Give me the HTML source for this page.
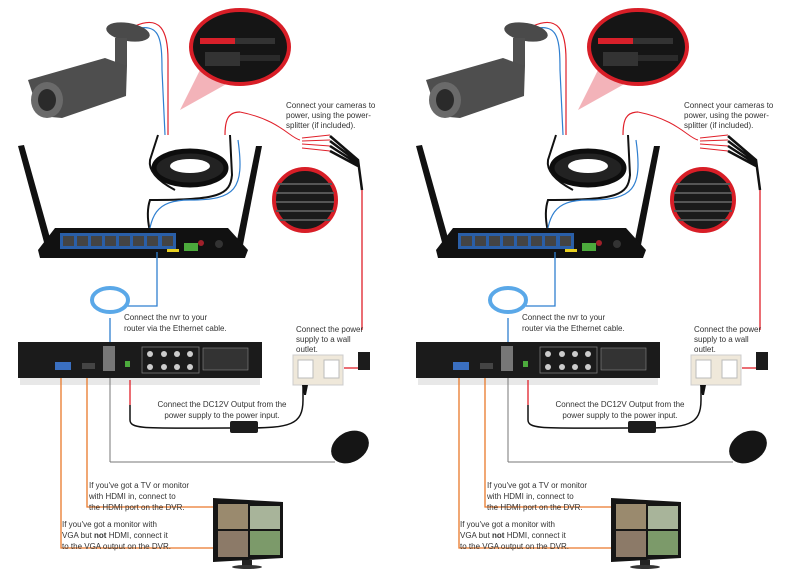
<!DOCTYPE html>
<html><head><meta charset="utf-8"><style>
html,body{margin:0;padding:0;background:#fff;width:809px;height:575px;overflow:hidden}
svg text{font-family:"Liberation Sans",sans-serif;font-size:8px;fill:#333}
</style></head><body>
<svg width="809" height="575" viewBox="0 0 809 575" xmlns="http://www.w3.org/2000/svg">
<defs>
<g id="art">
 <!-- camera cables -->
 <path d="M135,26 C160,15 168,30 168,60 L168,135" fill="none" stroke="#e0202a" stroke-width="1.2"/>
 <path d="M140,28 C160,25 162,40 162,70 L165,135" fill="none" stroke="#2f7fd0" stroke-width="1.2"/>
 <!-- pink triangle -->
 <polygon points="180,110 200,70 230,82" fill="#f0a0a8" opacity="0.8"/>
 <!-- camera -->
 <ellipse cx="128" cy="32" rx="22" ry="9" transform="rotate(10 128 32)" fill="#4a4a4a"/>
 <rect x="115" y="38" width="12" height="28" fill="#505050"/>
 <polygon points="28,80 105,58 127,66 126,96 62,118 40,116" fill="#4e4e4e"/>
 <ellipse cx="47" cy="100" rx="16" ry="18" fill="#6a6a6a"/>
 <ellipse cx="47" cy="100" rx="9" ry="11" fill="#2a2a2a"/>
 <!-- magnifier -->
 <ellipse cx="240" cy="47" rx="49" ry="37" fill="#151515" stroke="#d81e27" stroke-width="4"/>
 <rect x="200" y="38" width="35" height="6" fill="#d8202a"/>
 <rect x="235" y="38" width="40" height="6" fill="#333"/>
 <rect x="205" y="52" width="35" height="14" fill="#333"/>
 <rect x="240" y="55" width="40" height="6" fill="#2a2a2a"/>
 <!-- coiled cable -->
 <ellipse cx="190" cy="168" rx="36" ry="17" fill="#222" stroke="#0d0d0d" stroke-width="5"/>
 <ellipse cx="190" cy="166" rx="20" ry="7" fill="#fff"/>
 <path d="M158,135 L150,160 C148,172 160,182 175,190 M230,135 L232,175 C230,195 220,200 150,200 C145,215 150,230 150,232" fill="none" stroke="#111" stroke-width="2"/>
 <path d="M238,140 C245,190 235,200 190,200 C155,200 150,215 147,250" fill="none" stroke="#2f7fd0" stroke-width="1.2"/>
 <path d="M225,135 C225,120 228,112 240,112" fill="none" stroke="#e0202a" stroke-width="1.2"/>
 <!-- splitter -->
 <path d="M240,112 C280,120 290,138 300,140 M302,138 L330,135 M302,141 L330,140 M302,144 L330,146 M302,148 L330,151" stroke="#e0202a" stroke-width="1" fill="none"/>
 <path d="M330,136 L358,160 L362,190 M330,141 L358,162 M330,146 L358,164 M330,151 L358,166" stroke="#111" stroke-width="2.5" fill="none"/>
 <line x1="362" y1="190" x2="362" y2="330" stroke="#e0202a" stroke-width="1.3"/>
 <polygon points="295,170 280,185 325,175" fill="#f0a0a8"/>
 <circle cx="305" cy="200" r="31" fill="#1a1a1a" stroke="#d81e27" stroke-width="4"/>
 <g stroke="#555" stroke-width="2"><line x1="278" y1="184" x2="332" y2="184"/><line x1="276" y1="193" x2="334" y2="193"/><line x1="276" y1="202" x2="334" y2="202"/><line x1="276" y1="211" x2="334" y2="211"/><line x1="280" y1="220" x2="330" y2="220"/></g>
 <!-- router -->
 <polygon points="18,146 24,145 52,245 45,246" fill="#111"/>
 <polygon points="256,146 262,146 243,245 236,245" fill="#111"/>
 <polygon points="55,228 228,228 248,250 245,258 40,258 38,250" fill="#111"/>
 <rect x="60" y="233" width="116" height="16" fill="#2a5fa8"/>
 <g fill="#444"><rect x="63" y="236" width="11" height="10"/><rect x="77" y="236" width="11" height="10"/><rect x="91" y="236" width="11" height="10"/><rect x="105" y="236" width="11" height="10"/><rect x="119" y="236" width="11" height="10"/><rect x="133" y="236" width="11" height="10"/><rect x="147" y="236" width="11" height="10"/><rect x="162" y="236" width="11" height="10"/></g>
 <rect x="167" y="249" width="12" height="3" fill="#e8d020"/>
 <rect x="184" y="243" width="14" height="8" fill="#4caa3c"/>
 <circle cx="201" cy="243" r="3" fill="#a0202a"/>
 <circle cx="219" cy="244" r="4" fill="#333"/>
 <!-- ethernet -->
 <path d="M157,252 L157,306 L125,306" fill="none" stroke="#2f7fd0" stroke-width="1.3"/>
 <ellipse cx="110" cy="300" rx="18" ry="12" fill="none" stroke="#5aa8e8" stroke-width="4"/>
 <line x1="110" y1="318" x2="110" y2="343" stroke="#2f7fd0" stroke-width="1.3"/>
 <!-- NVR -->
 <rect x="18" y="342" width="244" height="36" fill="#1b1b1b"/>
 <rect x="20" y="378" width="240" height="7" fill="#e8e8e8"/>
 <rect x="55" y="362" width="16" height="8" fill="#3a6fc0"/>
 <rect x="82" y="363" width="13" height="6" fill="#444"/>
 <rect x="103" y="346" width="12" height="25" fill="#777"/>
 <rect x="125" y="361" width="5" height="6" fill="#4caa3c"/>
 <rect x="142" y="347" width="57" height="26" fill="none" stroke="#777" stroke-width="0.8"/>
 <g fill="#ccc"><circle cx="150" cy="354" r="3"/><circle cx="164" cy="354" r="3"/><circle cx="177" cy="354" r="3"/><circle cx="190" cy="354" r="3"/><circle cx="150" cy="367" r="3"/><circle cx="164" cy="367" r="3"/><circle cx="177" cy="367" r="3"/><circle cx="190" cy="367" r="3"/></g>
 <rect x="203" y="348" width="45" height="22" fill="#333" stroke="#888" stroke-width="0.6"/>
 <!-- power -->
 <line x1="130" y1="380" x2="130" y2="405" stroke="#e0202a" stroke-width="1.3"/>
 <path d="M130,405 L130,420 C130,430 150,428 230,428 M245,428 C290,428 303,425 303,400 L303,385" fill="none" stroke="#111" stroke-width="1.5"/>
 <rect x="230" y="421" width="28" height="12" rx="2" fill="#1c1c1c"/>
 <rect x="293" y="355" width="50" height="30" fill="#efe8da" stroke="#ccc"/>
 <rect x="298" y="360" width="15" height="18" fill="#fff" stroke="#bbb"/>
 <rect x="324" y="360" width="15" height="18" fill="#fff" stroke="#bbb"/>
 <polygon points="302,385 308,385 306,395 304,395" fill="#111"/>
 <line x1="344" y1="368" x2="360" y2="368" stroke="#e0202a" stroke-width="1.3"/>
 <rect x="358" y="352" width="12" height="18" fill="#1c1c1c"/>
 <!-- mouse -->
 <line x1="110" y1="378" x2="110" y2="462" stroke="#777" stroke-width="1"/>
 <line x1="110" y1="462" x2="335" y2="462" stroke="#777" stroke-width="1"/>
 <ellipse cx="350" cy="447" rx="20" ry="15" transform="rotate(-30 350 447)" fill="#151515"/>
 <!-- orange -->
 <path d="M61,378 L61,548 L215,548 M87,378 L87,507 L215,507" fill="none" stroke="#e9782a" stroke-width="1.3"/>
 <!-- monitor -->
 <polygon points="213,498 283,502 283,558 213,562" fill="#151515"/>
 <rect x="218" y="504" width="30" height="25" fill="#9a8a6e"/>
 <rect x="250" y="506" width="30" height="23" fill="#a8b49a"/>
 <rect x="218" y="531" width="30" height="26" fill="#8c7a68"/>
 <rect x="250" y="531" width="30" height="24" fill="#7c9a6a"/>
 <rect x="242" y="560" width="10" height="6" fill="#222"/>
 <ellipse cx="247" cy="567" rx="15" ry="2" fill="#333"/>
</g>
</defs>
<use href="#art"/>
<use href="#art" x="398"/>
<g>
 <text x="286" y="108">Connect your cameras to</text>
 <text x="286" y="118">power, using the power-</text>
 <text x="286" y="128">splitter (if included).</text>
 <text x="124" y="320">Connect the nvr to your</text>
 <text x="124" y="331">router via the Ethernet cable.</text>
 <text x="296" y="332">Connect the power</text>
 <text x="296" y="342">supply to a wall</text>
 <text x="296" y="352">outlet.</text>
 <text x="222" y="407" text-anchor="middle">Connect the DC12V Output from the</text>
 <text x="222" y="418" text-anchor="middle">power supply to the power input.</text>
 <text x="89" y="488">If you've got a TV or monitor</text>
 <text x="89" y="499">with HDMI in, connect to</text>
 <text x="89" y="510">the HDMI port on the DVR.</text>
 <text x="62" y="527">If you've got a monitor with</text>
 <text x="62" y="538">VGA but <tspan font-weight="bold">not</tspan> HDMI, connect it</text>
 <text x="62" y="549">to the VGA output on the DVR.</text>
</g>
<g transform="translate(398,0)">
 <text x="286" y="108">Connect your cameras to</text>
 <text x="286" y="118">power, using the power-</text>
 <text x="286" y="128">splitter (if included).</text>
 <text x="124" y="320">Connect the nvr to your</text>
 <text x="124" y="331">router via the Ethernet cable.</text>
 <text x="296" y="332">Connect the power</text>
 <text x="296" y="342">supply to a wall</text>
 <text x="296" y="352">outlet.</text>
 <text x="222" y="407" text-anchor="middle">Connect the DC12V Output from the</text>
 <text x="222" y="418" text-anchor="middle">power supply to the power input.</text>
 <text x="89" y="488">If you've got a TV or monitor</text>
 <text x="89" y="499">with HDMI in, connect to</text>
 <text x="89" y="510">the HDMI port on the DVR.</text>
 <text x="62" y="527">If you've got a monitor with</text>
 <text x="62" y="538">VGA but <tspan font-weight="bold">not</tspan> HDMI, connect it</text>
 <text x="62" y="549">to the VGA output on the DVR.</text>
</g>
</svg>
</body></html>
